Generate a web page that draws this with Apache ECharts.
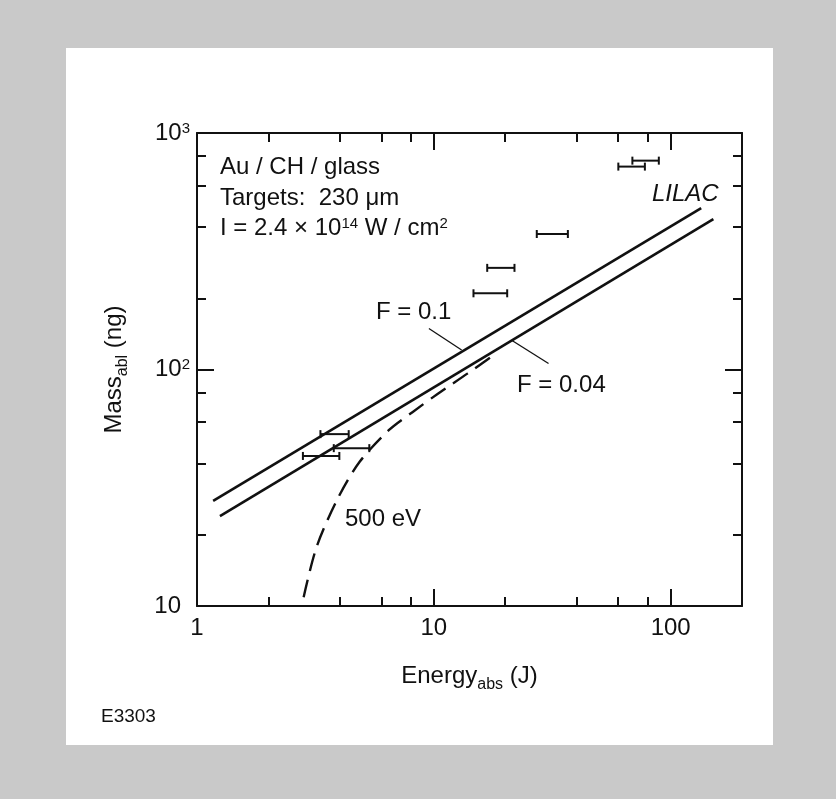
<!DOCTYPE html>
<html>
<head>
<meta charset="utf-8">
<script src="https://cdn.jsdelivr.net/npm/echarts@6/dist/echarts.min.js"></script>
<style>
html, body { margin: 0; padding: 0; background: #c9c9c9; }
#chart { width: 836px; height: 799px; }
</style>
</head>
<body>
<div id="chart"></div>
<script>
// 轴刻度
var xMajor = [1, 10, 100];
var xMinor = [2, 4, 6, 8, 20, 40, 60, 80];
var yMajor = [10, 100, 1000];
var yMinor = [20, 40, 60, 80, 200, 400, 600, 800];

// LILAC 直线 F = 0.1 / F = 0.04 (端点: 能量 J, 质量 ng)
var lineF01 = [[1.17, 27.8], [134.5, 481]];
var lineF004 = [[1.25, 24.0], [151.4, 432]];

// 500 eV 虚线
var curveE = [2.82, 3.20, 3.93, 4.87, 6.47, 8.12, 10.4, 13.9, 18.5];
var curveM = [10.9, 17.8, 28.5, 40.8, 55.5, 66.0, 79.0, 96.3, 117.8];

// 实验点: 质量, 能量范围
var errMass = [764, 721, 374, 269, 210, 53.3, 46.5, 43.1];
var errLow = [68.9, 60.1, 27.2, 16.8, 14.7, 3.32, 3.78, 2.80];
var errHigh = [89.1, 77.8, 36.8, 21.9, 20.4, 4.37, 5.34, 3.99];

var FONT = '"Liberation Sans", Arial, sans-serif';
var INK = '#111';

var chart = echarts.init(document.getElementById('chart'));

function xAxisOf(pos, ticks, len, main) {
    return {
        type: 'log', min: 1, max: 200, position: pos,
        axisLine: { show: main, lineStyle: { color: INK, width: 2 } },
        axisTick: { inside: true, length: len, customValues: ticks, lineStyle: { color: INK, width: 2 } },
        axisLabel: {
            show: main && pos === 'bottom', customValues: xMajor, margin: 10,
            color: INK, fontSize: 24, fontFamily: FONT
        },
        splitLine: { show: false }
    };
}
function yAxisOf(pos, ticks, len, main) {
    return {
        type: 'log', min: 10, max: 1000, position: pos,
        axisLine: { show: main, lineStyle: { color: INK, width: 2 } },
        axisTick: { inside: true, length: len, customValues: ticks, lineStyle: { color: INK, width: 2 } },
        axisLabel: {
            show: main && pos === 'left', customValues: yMajor, margin: 7,
            color: INK, fontSize: 24, fontFamily: FONT,
            formatter: function (v) {
                var p = Math.round(Math.log10(v));
                return p === 1 ? '{b|10}' : '10{sup|' + p + '}';
            },
            rich: {
                b: { fontSize: 24, fontFamily: FONT, color: INK, padding: [0, 9, 0, 0] },
                sup: { fontSize: 15, fontFamily: FONT, color: INK, verticalAlign: 'top', lineHeight: 14 }
            }
        },
        splitLine: { show: false }
    };
}

var xAxes = [
    xAxisOf('bottom', xMajor, 17, true),
    xAxisOf('bottom', xMinor, 9, false),
    xAxisOf('top', xMajor, 17, true),
    xAxisOf('top', xMinor, 9, false)
];
xAxes[0].name = 'Energy{sub|abs} (J)';
xAxes[0].nameLocation = 'middle';
xAxes[0].nameGap = 53;
xAxes[0].nameTextStyle = {
    color: INK, fontSize: 24, fontFamily: FONT, lineHeight: 34,
    rich: { sub: { fontSize: 16, fontFamily: FONT, color: INK, verticalAlign: 'bottom', lineHeight: 16 } }
};

var yAxes = [
    yAxisOf('left', yMajor, 17, true),
    yAxisOf('left', yMinor, 9, false),
    yAxisOf('right', yMajor, 17, true),
    yAxisOf('right', yMinor, 9, false)
];
yAxes[0].name = 'Mass{sub|abl} (ng)';
yAxes[0].nameLocation = 'middle';
yAxes[0].nameGap = 66;
yAxes[0].nameTextStyle = {
    color: INK, fontSize: 24, fontFamily: FONT, lineHeight: 34,
    rich: { sub: { fontSize: 16, fontFamily: FONT, color: INK, verticalAlign: 'bottom', lineHeight: 16 } }
};

var leaderStyle = { type: 'solid', width: 1.3, color: INK };

var option = {
    animation: false,
    grid: { left: 197, right: 94, top: 133, bottom: 193 },
    xAxis: xAxes,
    yAxis: yAxes,
    graphic: [
        { type: 'rect', z: -10, shape: { x: 66, y: 48, width: 707, height: 697 }, style: { fill: '#fff' } },
        { type: 'text', x: 220, y: 167, style: { text: 'Au / CH / glass', font: '24px ' + FONT, fill: INK, verticalAlign: 'middle' } },
        { type: 'text', x: 220, y: 198, style: { text: 'Targets:  230 \u03bcm', font: '24px ' + FONT, fill: INK, verticalAlign: 'middle' } },
        { type: 'text', x: 220, y: 228, style: {
            text: 'I = 2.4 \u00d7 10{sup|14} W / cm{sup|2}', font: '24px ' + FONT, fill: INK, verticalAlign: 'middle',
            rich: { sup: { fontSize: 15, fontFamily: FONT, fill: INK, verticalAlign: 'top', lineHeight: 14 } }
        } },
        { type: 'text', x: 652, y: 194, style: { text: 'LILAC', font: 'italic 24px ' + FONT, fill: INK, verticalAlign: 'middle' } },
        { type: 'text', x: 376, y: 312, style: { text: 'F = 0.1', font: '24px ' + FONT, fill: INK, verticalAlign: 'middle' } },
        { type: 'text', x: 517, y: 385, style: { text: 'F = 0.04', font: '24px ' + FONT, fill: INK, verticalAlign: 'middle' } },
        { type: 'text', x: 345, y: 519, style: { text: '500 eV', font: '24px ' + FONT, fill: INK, verticalAlign: 'middle' } },
        { type: 'text', x: 101, y: 717, style: { text: 'E3303', font: '19px ' + FONT, fill: INK, verticalAlign: 'middle' } }
    ],
    series: [
        {
            name: 'F = 0.1', type: 'line', data: lineF01, symbol: 'none',
            lineStyle: { color: INK, width: 2.6 },
            markLine: {
                silent: true, symbol: 'none', label: { show: false }, lineStyle: leaderStyle,
                data: [[{ coord: [9.53, 149] }, { coord: [13.1, 121] }]]
            }
        },
        {
            name: 'F = 0.04', type: 'line', data: lineF004, symbol: 'none',
            lineStyle: { color: INK, width: 2.6 },
            markLine: {
                silent: true, symbol: 'none', label: { show: false }, lineStyle: leaderStyle,
                data: [[{ coord: [21.3, 133] }, { coord: [30.5, 106] }]]
            }
        },
        {
            name: '500 eV', type: 'line', symbol: 'none', smooth: 0.3,
            data: curveE.map(function (e, i) { return [e, curveM[i]]; }),
            lineStyle: { color: INK, width: 2.4, type: [18, 9] }
        },
        {
            name: 'data', type: 'custom',
            data: errMass.map(function (m, i) { return [m, errLow[i], errHigh[i]]; }),
            encode: { x: [1, 2], y: 0 },
            renderItem: function (params, api) {
                var lo = api.coord([api.value(1), api.value(0)]);
                var hi = api.coord([api.value(2), api.value(0)]);
                var c = 4;
                var st = { stroke: INK, lineWidth: 2 };
                return {
                    type: 'group',
                    children: [
                        { type: 'line', shape: { x1: lo[0], y1: lo[1], x2: hi[0], y2: hi[1] }, style: st },
                        { type: 'line', shape: { x1: lo[0], y1: lo[1] - c, x2: lo[0], y2: lo[1] + c }, style: st },
                        { type: 'line', shape: { x1: hi[0], y1: hi[1] - c, x2: hi[0], y2: hi[1] + c }, style: st }
                    ]
                };
            }
        }
    ]
};

chart.setOption(option);
</script>
</body>
</html>
